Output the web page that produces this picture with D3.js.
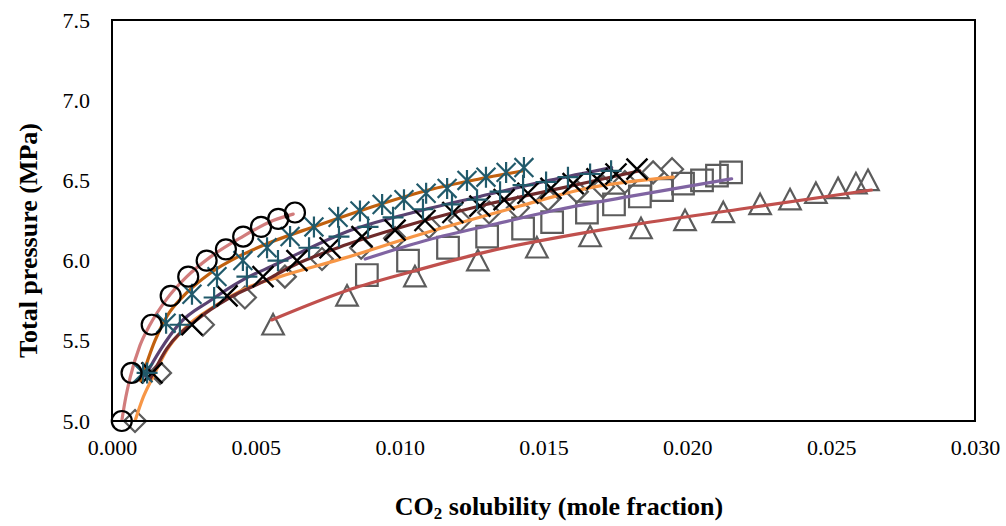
<!DOCTYPE html>
<html>
<head>
<meta charset="utf-8">
<script src="https://cdn.jsdelivr.net/npm/d3@7"></script>
<style>
  html, body { margin: 0; padding: 0; background: #fff; }
  svg { display: block; }
</style>
</head>
<body>
<svg id="chart" width="1006" height="526"></svg>
<script>
// ---- Measured data (CO2 solubility, mole fraction vs total pressure, MPa) ----
const circleX   = [0.00034,0.00068,0.00138,0.00204,0.00265,0.00329,0.00396,0.00456,0.00518,0.00578,0.00636];
const circleP   = [5.00,5.30,5.60,5.78,5.90,6.00,6.07,6.15,6.21,6.26,6.30];

const starX     = [0.00108,0.00188,0.00278,0.00365,0.00455,0.00539,0.00619,0.00702,0.00786,0.00862,0.00939,0.01015,0.01092,0.01165,0.01234,0.01300,0.01370,0.01432];
const starP     = [5.30,5.61,5.79,5.90,6.00,6.08,6.15,6.21,6.27,6.31,6.35,6.38,6.42,6.45,6.50,6.52,6.55,6.58];

const plusX     = [0.00122,0.00236,0.00355,0.00469,0.00577,0.00685,0.00789,0.00890,0.00977,0.01081,0.01182,0.01269,0.01349,0.01429,0.01509,0.01585,0.01662,0.01735];
const plusP     = [5.30,5.60,5.77,5.90,6.00,6.08,6.15,6.21,6.27,6.32,6.35,6.38,6.43,6.47,6.49,6.52,6.54,6.56];

const crossX    = [0.00139,0.00278,0.00400,0.00525,0.00643,0.00758,0.00869,0.00984,0.01088,0.01185,0.01279,0.01363,0.01446,0.01526,0.01603,0.01686,0.01752,0.01825];
const crossP    = [5.30,5.60,5.78,5.90,6.00,6.08,6.15,6.19,6.25,6.30,6.34,6.38,6.42,6.45,6.48,6.51,6.54,6.57];

const diamondX  = [0.00080,0.00167,0.00316,0.00462,0.00601,0.00730,0.00866,0.00984,0.01102,0.01210,0.01311,0.01411,0.01516,0.01616,0.01707,0.01783,0.01881,0.01947];
const diamondP  = [5.00,5.30,5.60,5.77,5.90,6.01,6.08,6.14,6.21,6.25,6.30,6.33,6.38,6.43,6.46,6.49,6.55,6.57];

const squareX   = [0.00886,0.01029,0.01168,0.01304,0.01429,0.01530,0.01651,0.01745,0.01835,0.01912,0.01985,0.02051,0.02103,0.02152];
const squareP   = [5.91,6.00,6.08,6.15,6.20,6.24,6.30,6.35,6.40,6.44,6.48,6.50,6.53,6.55];

const triangleX = [0.00560,0.00817,0.01053,0.01272,0.01477,0.01662,0.01839,0.01992,0.02125,0.02253,0.02357,0.02447,0.02524,0.02586,0.02628];
const triangleP = [5.60,5.78,5.90,6.00,6.08,6.15,6.20,6.25,6.30,6.35,6.38,6.42,6.45,6.48,6.50];

// ---- Model curves ----
const fitAX = [0.00034,0.00045,0.00063,0.00097,0.00132,0.0019,0.0026,0.0034,0.00445,0.0056,0.0063];
const fitAP = [5.00,5.12,5.27,5.47,5.60,5.76,5.90,6.02,6.14,6.25,6.29];

const fitBX = [0.0010,0.00149,0.0019,0.0026,0.0034,0.00445,0.0056,0.0070,0.0093,0.0110,0.0128,0.0143];
const fitBP = [5.25,5.50,5.65,5.80,5.92,6.03,6.12,6.21,6.35,6.44,6.51,6.56];

const fitCX = [0.00115,0.00167,0.00236,0.00341,0.00455,0.00574,0.00654,0.00816,0.01046,0.01279,0.0152,0.01737];
const fitCP = [5.28,5.44,5.61,5.75,5.88,5.98,6.05,6.18,6.30,6.40,6.50,6.58];

const fitDX = [0.00132,0.0019,0.00294,0.0041,0.00538,0.0062,0.00816,0.01047,0.01279,0.01557,0.01835];
const fitDP = [5.26,5.45,5.63,5.77,5.88,5.96,6.10,6.23,6.34,6.45,6.56];

const fitEX = [0.0008,0.00109,0.00144,0.0019,0.0026,0.00352,0.00468,0.00584,0.00816,0.01047,0.01279,0.01418,0.0165,0.01951];
const fitEP = [5.00,5.15,5.28,5.44,5.59,5.71,5.83,5.90,6.02,6.15,6.27,6.34,6.45,6.52];

const fitFX = [0.0088,0.0110,0.01337,0.01557,0.0180,0.02154];
const fitFP = [6.01,6.13,6.23,6.32,6.40,6.51];

const fitGX = [0.00555,0.00827,0.01059,0.01291,0.01696,0.01835,0.0218,0.0264];
const fitGP = [5.63,5.82,5.94,6.05,6.19,6.23,6.32,6.44];

// ---- Axis ticks ----
const xTicks = [0, 0.005, 0.010, 0.015, 0.020, 0.025, 0.030];
const yTicks = [5.0, 5.5, 6.0, 6.5, 7.0, 7.5];

const svg = d3.select("#chart");
const plotL = 112, plotR = 975, plotT = 20, plotB = 421;
const serif = "'Liberation Serif', 'Times New Roman', serif";

const x = d3.scaleLinear().domain([0, 0.03]).range([plotL, plotR]);
const y = d3.scaleLinear().domain([5.0, 7.5]).range([plotB, plotT]);

const zip = (xs, ps) => xs.map((v, i) => [v, ps[i]]);

// Axes (labels only, no tick marks)
const xAxis = d3.axisBottom(x).tickValues(xTicks).tickFormat(d3.format(".3f")).tickSize(0).tickPadding(18);
const yAxis = d3.axisLeft(y).tickValues(yTicks).tickFormat(d3.format(".1f")).tickSize(0).tickPadding(22);

const gx = svg.append("g").attr("transform", `translate(0,${plotB})`).call(xAxis);
const gy = svg.append("g").attr("transform", `translate(${plotL},0)`).call(yAxis);
[gx, gy].forEach(g => {
  g.select(".domain").remove();
  g.selectAll("text")
    .attr("font-family", serif)
    .attr("font-size", 22)
    .attr("fill", "#000");
});

// Marker shapes
const markerPath = {
  circle:   r => `M${-r},0a${r},${r} 0 1,0 ${2*r},0a${r},${r} 0 1,0 ${-2*r},0Z`,
  star:     r => `M0,${-r}V${r}M${-r*0.9},${-r*0.9}L${r*0.9},${r*0.9}M${-r*0.9},${r*0.9}L${r*0.9},${-r*0.9}`,
  plus:     r => `M0,${-r}V${r}M${-r},0H${r}`,
  cross:    r => `M${-r},${-r}L${r},${r}M${-r},${r}L${r},${-r}`,
  diamond:  r => `M0,${-r}L${r},0L0,${r}L${-r},0Z`,
  square:   r => `M${-r},${-r}H${r}V${r}H${-r}Z`,
  triangle: r => `M0,${-r}L${r},${r*0.9}L${-r},${r*0.9}Z`
};

const plot = svg.append("g");
const clipId = "plotClip";
svg.append("clipPath").attr("id", clipId)
  .append("rect").attr("x", plotL).attr("y", plotT).attr("width", plotR - plotL).attr("height", plotB - plotT);

function drawMarkers(xs, ps, shape, r, color, width) {
  plot.append("g").selectAll("path")
    .data(zip(xs, ps))
    .join("path")
    .attr("transform", d => `translate(${x(d[0])},${y(d[1])})`)
    .attr("d", markerPath[shape](r))
    .attr("fill", "none")
    .attr("stroke", color)
    .attr("stroke-width", width);
}

const lineGen = d3.line().x(d => x(d[0])).y(d => y(d[1])).curve(d3.curveMonotoneX);
function drawLine(xs, ps, color) {
  plot.append("path")
    .datum(zip(xs, ps))
    .attr("d", lineGen)
    .attr("fill", "none")
    .attr("stroke", color)
    .attr("stroke-width", 3.2)
    .attr("stroke-linecap", "round")
    .attr("clip-path", `url(#${clipId})`);
}

const grey = "#5c5c5c";
const teal = "#215a6b";

// Open grey markers underneath the model curves
drawMarkers(triangleX, triangleP, "triangle", 10.8, grey, 2.2);
drawMarkers(squareX, squareP, "square", 10.8, grey, 2.2);
drawMarkers(diamondX, diamondP, "diamond", 11, grey, 2.2);

// Model curves
drawLine(fitGX, fitGP, "#c0504d");
drawLine(fitFX, fitFP, "#8064a2");
drawLine(fitEX, fitEP, "#f79646");
drawLine(fitDX, fitDP, "#6e2a2a");
drawLine(fitCX, fitCP, "#5a4272");
drawLine(fitBX, fitBP, "#c0600e");
drawLine(fitAX, fitAP, "#d17c7c");

// Remaining markers
drawMarkers(crossX, crossP, "cross", 10.5, "#000", 2.4);
drawMarkers(plusX, plusP, "plus", 10.5, teal, 2.2);
drawMarkers(starX, starP, "star", 10.5, teal, 2.2);
drawMarkers(circleX, circleP, "circle", 10, "#000", 2.2);

// Plot-area frame
svg.append("rect")
  .attr("x", plotL).attr("y", plotT)
  .attr("width", plotR - plotL).attr("height", plotB - plotT)
  .attr("fill", "none").attr("stroke", "#000").attr("stroke-width", 2);

// Axis titles
svg.append("text")
  .attr("transform", `translate(37,${(plotT + plotB) / 2 + 20}) rotate(-90)`)
  .attr("text-anchor", "middle")
  .attr("font-family", serif)
  .attr("font-weight", "bold")
  .attr("font-size", 26)
  .text("Total pressure (MPa)");

const xt = svg.append("text")
  .attr("x", 559)
  .attr("y", 515)
  .attr("text-anchor", "middle")
  .attr("font-family", serif)
  .attr("font-weight", "bold")
  .attr("font-size", 26);
xt.append("tspan").text("CO");
xt.append("tspan").attr("font-size", 17).attr("dy", 4).text("2");
xt.append("tspan").attr("dy", -4).text(" solubility (mole fraction)");
</script>
</body>
</html>
